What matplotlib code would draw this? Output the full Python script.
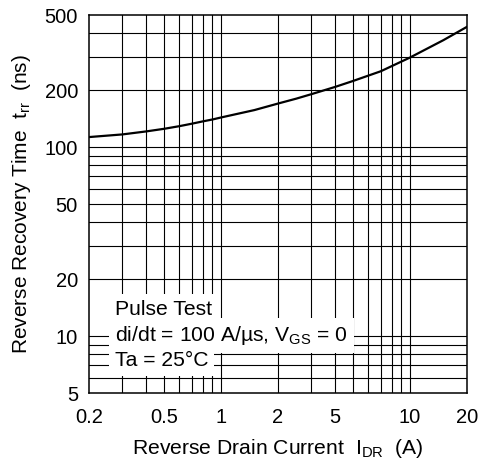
import matplotlib
matplotlib.use("Agg")
import matplotlib.pyplot as plt
from matplotlib.ticker import FixedLocator, NullFormatter

plt.rcParams['font.family'] = ['Liberation Sans', 'DejaVu Sans']
plt.rcParams['mathtext.fontset'] = 'custom'
plt.rcParams['mathtext.rm'] = 'Liberation Sans'
plt.rcParams['mathtext.it'] = 'Liberation Sans'

# curve
current_a = [0.2, 0.3, 0.4, 0.5, 0.6, 0.7, 0.8, 0.9, 1, 1.5, 2, 2.5, 3, 4, 5, 7, 10, 15, 20]
trr_ns = [113, 116.7, 121, 125, 129, 133, 136.8, 140, 143.5, 157, 170, 180.5, 190.5,
          208, 224, 252, 298, 368, 433]

# tick labels as printed (the "5" label sits on the 4 A line)
x_ticks = [0.2, 0.5, 1, 2, 4, 10, 20]
x_labels = ["0.2", "0.5", "1", "2", "5", "10", "20"]
y_ticks = [5, 10, 20, 50, 100, 200, 500]
y_labels = ["5", "10", "20", "50", "100", "200", "500"]

x_grid = [0.3, 0.4, 0.5, 0.6, 0.7, 0.8, 0.9, 1, 2, 3, 4, 5, 6, 7, 8, 9, 10]
y_grid = [6, 7, 8, 9, 10, 20, 30, 40, 50, 60, 70, 80, 90, 100, 200, 300, 400]

fig = plt.figure(figsize=(4.82, 4.61), dpi=100)
ax = fig.add_axes([89 / 482, 68 / 461, 378 / 482, 378 / 461])

ax.set_xscale('log')
ax.set_yscale('log')
ax.set_xlim(0.2, 20)
ax.set_ylim(5, 500)

for gx in x_grid:
    ax.axvline(gx, color='black', lw=0.8, zorder=1)
for gy in y_grid:
    ax.axhline(gy, color='black', lw=0.8, zorder=1)

ax.plot(current_a, trr_ns, color='black', lw=1.6, zorder=3, solid_joinstyle='round')

ax.xaxis.set_major_locator(FixedLocator(x_ticks))
ax.set_xticklabels(x_labels)
ax.yaxis.set_major_locator(FixedLocator(y_ticks))
ax.set_yticklabels(y_labels)
ax.xaxis.set_minor_locator(FixedLocator([]))
ax.yaxis.set_minor_locator(FixedLocator([]))
ax.xaxis.set_minor_formatter(NullFormatter())
ax.yaxis.set_minor_formatter(NullFormatter())
ax.tick_params(axis='both', length=0, labelsize=14.5)
ax.tick_params(axis='x', pad=11)
ax.tick_params(axis='y', pad=8)

for s in ax.spines.values():
    s.set_linewidth(1.1)
    s.set_zorder(4)

ax.set_xlabel(r'Reverse Drain Current  $\mathrm{I}_{\mathrm{DR}}$  (A)', fontsize=15.2, labelpad=7)
ax.set_ylabel(r'Reverse Recovery Time  $\mathrm{t}_{\mathrm{rr}}$  (ns)', fontsize=15, labelpad=8)

box = dict(boxstyle='square,pad=0.28', facecolor='white', edgecolor='none')
notes = ["Pulse Test", r"di/dt = 100 A/µs, $\mathrm{V}_{\mathrm{GS}}$ = 0", "Ta = 25°C"]
note_y = [0.206, 0.138, 0.071]
for txt, yy in zip(notes, note_y):
    ax.text(0.069, yy, txt, transform=ax.transAxes, fontsize=15.2,
            va='baseline', ha='left', bbox=box, zorder=5)

fig.savefig("out.png", dpi=100)
